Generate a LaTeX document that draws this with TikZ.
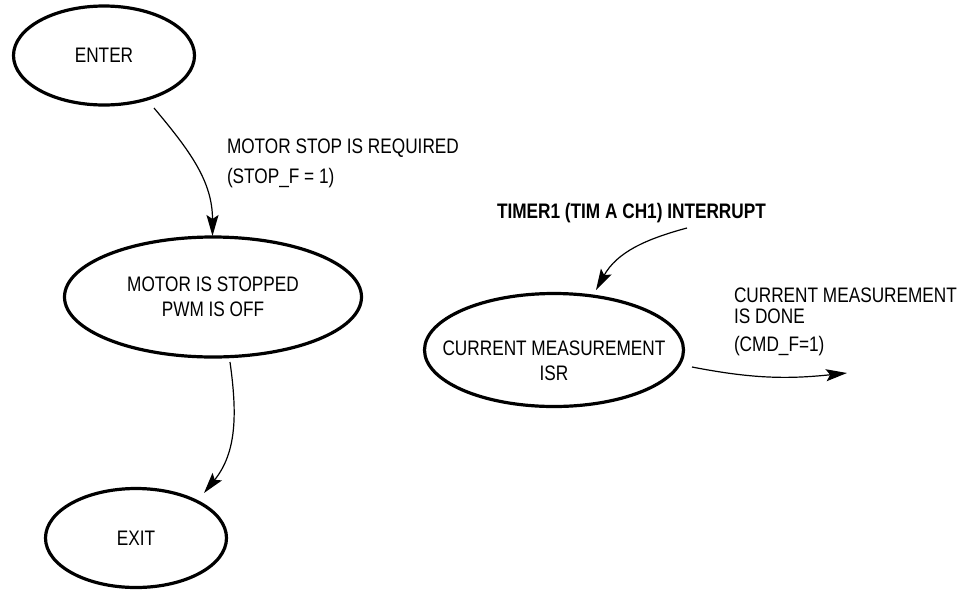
\documentclass[tikz,border=0pt]{standalone}
\usepackage{fontspec}
\setmainfont{Liberation Sans}[FakeStretch=0.82]
\usetikzlibrary{shapes.geometric,arrows.meta}
\begin{document}
\begin{tikzpicture}[x=1pt,y=-1pt,
  every node/.style={font=\fontsize{21}{25}\selectfont, inner sep=0pt, outer sep=0pt},
  state/.style={ellipse, draw, line width=3.2pt, align=center},
  conn/.style={line width=1.2pt, -{Stealth[length=21pt,width=12pt,inset=4pt]}},
  lbl/.style={anchor=base west, align=left}]
\useasboundingbox (0,0) rectangle (974,592);

% states
\node[state, minimum width=181pt, minimum height=99pt] (enter) at (104,55.5) {ENTER};
\node[state, minimum width=297pt, minimum height=120pt] (motor) at (213,297) {MOTOR IS STOPPED\\PWM IS OFF};
\node[state, minimum width=181pt, minimum height=99pt] (exit) at (136,538) {EXIT};
\node[state, minimum width=259pt, minimum height=113pt] (cm) at (554,350) {};
\node[align=center] (cmtext) at (554,361) {CURRENT MEASUREMENT\\ISR};

% labels
\node[lbl] (l1) at (227,153) {MOTOR STOP IS REQUIRED};
\node[lbl] (l2) at (227,183) {(STOP\_F = 1)};
\node[lbl, font=\fontsize{21}{25}\selectfont\bfseries] (l3) at (497,218) {TIMER1 (TIM A CH1) INTERRUPT};
\node[lbl] (l4) at (734,302) {CURRENT MEASUREMENT};
\node[lbl] (l5) at (734,323) {IS DONE};
\node[lbl] (l6) at (734,351) {(CMD\_F=1)};

% connector end points
\coordinate (a1s) at (154,108);
\coordinate (a1e) at (212.5,236);
\coordinate (a2s) at (230,362);
\coordinate (a2e) at (204,493);
\coordinate (a3s) at (687,228);
\coordinate (a3e) at (596,290);
\coordinate (a4s) at (692,367);
\coordinate (a4e) at (847,373);

\draw[conn] (a1s) to[out=-50, in=90] (a1e);
\draw[conn] (a2s) to[out=-82, in=51] (a2e);
\draw[conn] (a3s) to[out=-165, in=61] (a3e);
\draw[conn] (a4s) to[out=-11, in=-174] (a4e);
\end{tikzpicture}
\end{document}
